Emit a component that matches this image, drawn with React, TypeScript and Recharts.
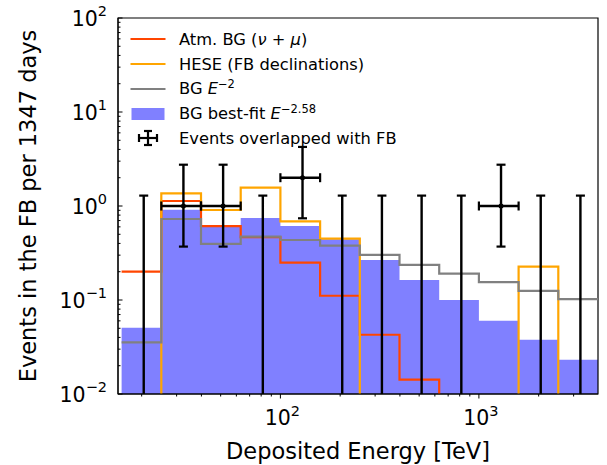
import { Area, ComposedChart, Line, ReferenceArea, XAxis, YAxis } from "recharts";

// bin edges (TeV), 0.2 dex wide
const BIN_EDGES = [15.85, 25.12, 39.81, 63.1, 100, 158.5, 251.2, 398.1, 631, 1000, 1585, 2512, 3981];
const ATM_BG = [0.2, 1.13, 0.61, 0.465, 0.25, 0.111, 0.0427, 0.0142, 0, 0, 0, 0];
const HESE_FB = [0, 1.36, 0.907, 1.57, 0.687, 0.45, 0, 0, 0, 0, 0.226, 0];
const BG_E2 = [0.0355, 0.727, 0.395, 0.472, 0.435, 0.378, 0.302, 0.236, 0.191, 0.155, 0.125, 0.102];
const BG_BEST_FIT = [0.0506, 0.913, 0.6, 0.745, 0.613, 0.443, 0.267, 0.163, 0.1, 0.06, 0.0377, 0.0232];
// observed events per bin and their 68% intervals
const EVENTS = [0, 1, 1, 0, 2, 0, 0, 0, 0, 1, 0, 0];
const EVENTS_LO = [0, 0.37, 0.37, 0, 0.74, 0, 0, 0, 0, 0.37, 0, 0];
const EVENTS_HI = [1.29, 2.75, 2.75, 1.29, 4.25, 1.29, 1.29, 1.29, 1.29, 2.75, 1.29, 1.29];

const X_DOMAIN = [15.2, 3981];
const Y_DOMAIN = [0.01, 100];
const X_MAJOR = [100, 1000];
const X_MAJOR_EXP = ["2", "3"];
const X_MINOR = [20, 30, 40, 50, 60, 70, 80, 90, 200, 300, 400, 500, 600, 700, 800, 900, 2000, 3000];
const Y_MAJOR = [0.01, 0.1, 1, 10, 100];
const Y_MAJOR_EXP = ["\u22122", "\u22121", "0", "1", "2"];
const Y_MINOR = Y_MAJOR.slice(0, -1).flatMap((d) => [2, 3, 4, 5, 6, 7, 8, 9].map((m) => +(d * m).toPrecision(2)));

const FLOOR = 1e-4; // empty bins sit below the log axis
const FONT = "'DejaVu Sans', sans-serif";
const LW = 2.2;

const stepData = (values: number[]) =>
  BIN_EDGES.map((x, i) => ({ x, y: Math.max(values[Math.min(i, values.length - 1)], FLOOR) }));

const errData: { x: number; y: number | null; cap?: string; marker?: boolean }[] = [];
EVENTS.forEach((n, i) => {
  const lo = BIN_EDGES[i];
  const hi = BIN_EDGES[i + 1];
  const xc = (lo + hi) / 2;
  errData.push({ x: xc, y: EVENTS_LO[i] > 0 ? EVENTS_LO[i] : FLOOR, cap: EVENTS_LO[i] > 0 ? "h" : undefined });
  errData.push({ x: xc, y: EVENTS_HI[i], cap: "h" });
  errData.push({ x: xc, y: null });
  if (n > 0) {
    errData.push({ x: lo, y: n, cap: "v" }, { x: xc, y: n, marker: true }, { x: hi, y: n, cap: "v" }, { x: xc, y: null });
  }
});

function ErrDot(props: any) {
  const { cx, cy, payload, index } = props;
  if (cx == null || cy == null || payload?.y == null) return <g key={index} />;
  if (payload.cap === "h")
    return <line key={index} x1={cx - 4.5} x2={cx + 4.5} y1={cy} y2={cy} stroke="#000" strokeWidth={2.2} />;
  if (payload.cap === "v")
    return <line key={index} x1={cx} x2={cx} y1={cy - 4.5} y2={cy + 4.5} stroke="#000" strokeWidth={2.2} />;
  if (payload.marker) return <circle key={index} cx={cx} cy={cy} r={2.5} fill="#000" />;
  return <g key={index} />;
}

function XTick(props: any) {
  const { x, y, payload } = props;
  const k = X_MAJOR.indexOf(payload.value);
  return (
    <g>
      <line x1={x} x2={x} y1={y} y2={y + (k >= 0 ? 4.5 : 2.5)} stroke="#000" strokeWidth={1} />
      {k >= 0 && (
        <text x={x + 2} y={y + 31} textAnchor="middle" fontFamily={FONT} fontSize={20.5} fill="#000">
          10
          <tspan fontSize={14.5} dy={-9}>{X_MAJOR_EXP[k]}</tspan>
        </text>
      )}
    </g>
  );
}

function YTick(props: any) {
  const { x, y, payload } = props;
  const k = Y_MAJOR.indexOf(payload.value);
  return (
    <g>
      <line x1={x} x2={x + (k >= 0 ? 4.5 : 2.5)} y1={y} y2={y} stroke="#000" strokeWidth={1} />
      {k >= 0 && (
        <text x={x - 11} y={y + 7.5} textAnchor="end" fontFamily={FONT} fontSize={20.5} fill="#000">
          10
          <tspan fontSize={14.5} dy={-10}>{Y_MAJOR_EXP[k]}</tspan>
        </text>
      )}
    </g>
  );
}

const XLabel = ({ viewBox }: any) => (
  <text x={viewBox.x + viewBox.width / 2} y={viewBox.y + 57} textAnchor="middle" dominantBaseline="central"
    fontFamily={FONT} fontSize={22.5} fill="#000">
    Deposited Energy [TeV]
  </text>
);

const YLabel = ({ viewBox }: any) => {
  const cx = viewBox.x + 28;
  const cy = viewBox.y + viewBox.height / 2;
  return (
    <text x={cx} y={cy} transform={`rotate(-90, ${cx}, ${cy})`} textAnchor="middle" dominantBaseline="central"
      fontFamily={FONT} fontSize={22.5} fill="#000">
      Events in the FB per 1347 days
    </text>
  );
};

const sup = { fontSize: 11.5, verticalAlign: "0.55em", lineHeight: 0 } as const;

const LEGEND = [
  { kind: "line", color: "#ff4500", label: <>Atm. BG (<i>ν</i> + <i>μ</i>)</> },
  { kind: "line", color: "#ffa500", label: <>HESE (FB declinations)</> },
  { kind: "line", color: "#808080", label: <>BG <i>E</i><span style={sup}>−2</span></> },
  { kind: "patch", color: "#8080ff", label: <>BG best-fit <i>E</i><span style={sup}>−2.58</span></> },
  { kind: "err", color: "#000", label: <>Events overlapped with FB</> },
];

function Legend() {
  return (
    <div style={{ position: "absolute", left: 130, top: 27, fontFamily: FONT, fontSize: 16.3, color: "#000" }}>
      {LEGEND.map((e, i) => (
        <div key={i} style={{ display: "flex", alignItems: "center", height: 24.75 }}>
          <svg width={36} height={20} style={{ flexShrink: 0 }}>
            {e.kind === "line" && <line x1={0.5} x2={35.5} y1={10} y2={10} stroke={e.color} strokeWidth={LW} />}
            {e.kind === "patch" && <rect x={1.5} y={4} width={33} height={12} fill={e.color} />}
            {e.kind === "err" && (
              <g stroke="#000" strokeWidth={2.2}>
                <line x1={9} x2={27} y1={10} y2={10} />
                <line x1={18} x2={18} y1={3} y2={17} />
                <line x1={9} x2={9} y1={6} y2={14} />
                <line x1={27} x2={27} y1={6} y2={14} />
                <line x1={14} x2={22} y1={3} y2={3} />
                <line x1={14} x2={22} y1={17} y2={17} />
              </g>
            )}
          </svg>
          <span style={{ marginLeft: 13, whiteSpace: "nowrap" }}>{e.label}</span>
        </div>
      ))}
    </div>
  );
}

export default function App() {
  return (
    <div style={{ position: "absolute", left: 0, top: 0, width: 607, height: 465, background: "#fff" }}>
      <ComposedChart width={607} height={465} margin={{ top: 18, right: 9, left: 0, bottom: 0 }}>
        <XAxis
          dataKey="x"
          type="number"
          scale="log"
          domain={X_DOMAIN}
          allowDataOverflow
          ticks={[...X_MINOR, ...X_MAJOR]}
          interval={0}
          tick={<XTick />}
          tickLine={false}
          tickSize={0}
          tickMargin={0}
          height={71}
          axisLine={{ stroke: "#000" }}
          label={<XLabel />}
        />
        <YAxis
          dataKey="y"
          type="number"
          scale="log"
          domain={Y_DOMAIN}
          allowDataOverflow
          ticks={[...Y_MINOR, ...Y_MAJOR]}
          interval={0}
          tick={<YTick />}
          tickLine={false}
          tickSize={0}
          tickMargin={0}
          width={118}
          axisLine={{ stroke: "#000" }}
          label={<YLabel />}
        />
        <Area data={stepData(BG_BEST_FIT)} dataKey="y" type="stepAfter" baseValue={0.01} fill="#8080ff"
          fillOpacity={1} stroke="none" isAnimationActive={false} />
        <Line data={stepData(ATM_BG)} dataKey="y" type="stepAfter" stroke="#ff4500" strokeWidth={LW} dot={false}
          isAnimationActive={false} />
        <Line data={stepData(HESE_FB)} dataKey="y" type="stepAfter" stroke="#ffa500" strokeWidth={LW} dot={false}
          isAnimationActive={false} />
        <Line data={stepData(BG_E2)} dataKey="y" type="stepAfter" stroke="#808080" strokeWidth={LW} dot={false}
          isAnimationActive={false} />
        <Line data={errData} dataKey="y" type="linear" stroke="#000" strokeWidth={2.4} dot={<ErrDot />}
          connectNulls={false} isAnimationActive={false} />
        <ReferenceArea x1={X_DOMAIN[0]} x2={X_DOMAIN[1]} y1={Y_DOMAIN[0]} y2={Y_DOMAIN[1]} fill="none"
          fillOpacity={0} stroke="#000" strokeWidth={1.2} />
      </ComposedChart>
      <Legend />
    </div>
  );
}
